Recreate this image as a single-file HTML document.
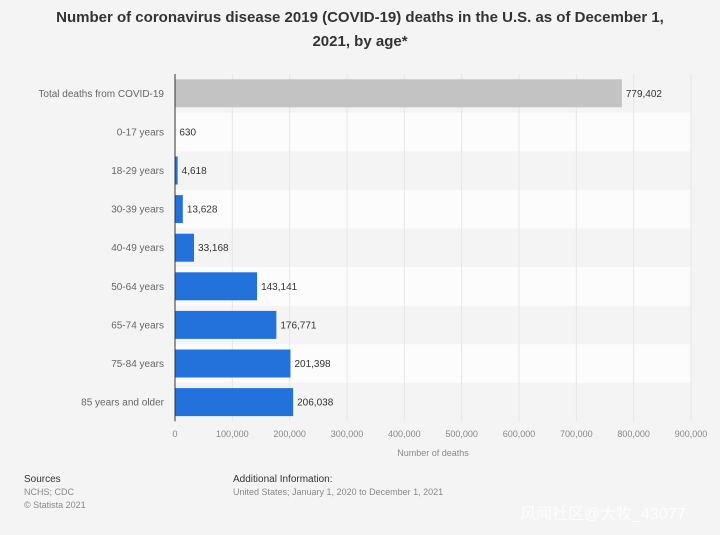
<!DOCTYPE html>
<html><head><meta charset="utf-8"><style>
body{margin:0;width:720px;height:535px;background:#f4f4f4;font-family:"Liberation Sans","Noto Sans CJK SC",sans-serif;overflow:hidden;position:relative}
.t{position:absolute;left:0;width:720px;top:6px;text-align:center;font-weight:bold;font-size:15px;line-height:24px;color:#333}
.s{position:absolute;font-size:9px;color:#888;line-height:13px}
</style></head><body>
<div class="t">Number of coronavirus disease 2019 (COVID-19) deaths in the U.S. as of December 1,<br>2021, by age*</div>
<svg id="c" width="720" height="470" style="position:absolute;left:0;top:0"></svg>
<div class="s" style="left:24px;top:473px"><span style="color:#333;font-size:10px">Sources</span><br>NCHS; CDC<br>© Statista 2021</div>
<div class="s" style="left:233px;top:473px"><span style="color:#333;font-size:10px">Additional Information:</span><br>United States; January 1, 2020 to December 1, 2021</div>
<div style="position:absolute;left:520px;top:500px;font-size:16px;color:rgba(255,255,255,0.8)">风闻社区@大牧_43077</div>
<script>
const categories=["Total deaths from COVID-19","0-17 years","18-29 years","30-39 years","40-49 years","50-64 years","65-74 years","75-84 years","85 years and older"];
const values=[779402,630,4618,13628,33168,143141,176771,201398,206038];
const labels=["779,402","630","4,618","13,628","33,168","143,141","176,771","201,398","206,038"];
const ticks=[0,100000,200000,300000,400000,500000,600000,700000,800000,900000];
const tickLabels=["0","100,000","200,000","300,000","400,000","500,000","600,000","700,000","800,000","900,000"];
const svg=document.getElementById('c');const NS="http://www.w3.org/2000/svg";
const x0=175,x1=691,top0=74,step=38.6;
const x=v=>x0+v/900000*(x1-x0);
const y=i=>top0+i*step;
function mk(t,a,txt){const e=document.createElementNS(NS,t);for(const k in a)e.setAttribute(k,a[k]);if(txt!==undefined)e.textContent=txt;svg.appendChild(e);return e;}
categories.forEach((c,i)=>{if(i%2==1){const b=mk('rect',{x:x0,y:y(i),width:x1-x0,height:step,fill:'#fcfcfc'});

}});
ticks.forEach((t,i)=>{const l=mk('line',{x1:x(t),x2:x(t),y1:top0,y2:top0+9*step,stroke:'#e6e6e6'});


const tx=mk('text',{x:x(t),y:437,'text-anchor':'middle','font-size':9,fill:'#888'},tickLabels[i]);

});
categories.forEach((c,i)=>{const cy=y(i)+step/2;
const r=mk('rect',{x:x0,y:cy-14,width:x(values[i])-x0,height:28,fill:i==0?'#c3c3c3':'#2372dc'});


const lb=mk('text',{x:x0-11,y:cy+3.5,'text-anchor':'end','font-size':10,fill:'#666'},c);


const v=mk('text',{x:x(values[i])+4,y:cy+3.5,'font-size':10,fill:'#333'},labels[i]);

});
const ax=mk('line',{x1:x0,x2:x0,y1:top0,y2:top0+9*step,stroke:'#333'});


const at=mk('text',{x:(x0+x1)/2,y:456,'text-anchor':'middle','font-size':9,fill:'#888'},'Number of deaths');


</script>
</body></html>
